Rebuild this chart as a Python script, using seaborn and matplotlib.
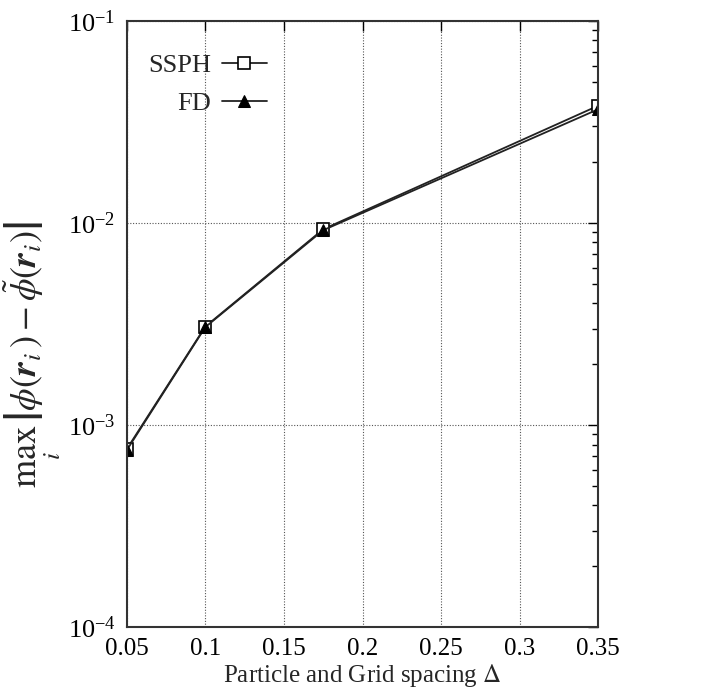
import matplotlib
matplotlib.use("Agg")
import matplotlib.pyplot as plt
import seaborn as sns
import pandas as pd
from matplotlib.ticker import LogLocator, FixedLocator, LogFormatterMathtext, NullFormatter

spacing = [0.05, 0.1, 0.175, 0.35]
ssph_err = [7.6e-4, 3.07e-3, 9.3e-3, 3.8e-2]
fd_err = [7.5e-4, 3.05e-3, 9.2e-3, 3.65e-2]
series_names = ["SSPH", "FD"]
xticks = [0.05, 0.1, 0.15, 0.2, 0.25, 0.3, 0.35]

sns.set_theme(style="white")
plt.rcParams['font.family'] = ['Liberation Serif', 'DejaVu Serif']
plt.rcParams['mathtext.fontset'] = 'stix'

df = pd.concat([
    pd.DataFrame({"x": spacing, "y": ssph_err, "method": series_names[0]}),
    pd.DataFrame({"x": spacing, "y": fd_err, "method": series_names[1]}),
])

fig = plt.figure(figsize=(7.2, 6.9), dpi=100)
ax = fig.add_axes([0.176, 0.091, 0.655, 0.879])

sns.lineplot(data=df[df.method == "SSPH"], x="x", y="y", ax=ax, color="#222222",
             lw=1.3, marker="s", markersize=9, markerfacecolor="white",
             markeredgecolor="black", markeredgewidth=1.2, label="SSPH")
sns.lineplot(data=df[df.method == "FD"], x="x", y="y", ax=ax, color="#222222",
             lw=1.3, marker="^", markersize=8, markerfacecolor="black",
             markeredgecolor="black", label="FD")

ax.set_yscale("log")
ax.set_xlim(0.05, 0.35)
ax.set_ylim(1e-4, 1e-1)
ax.xaxis.set_major_locator(FixedLocator(xticks))
ax.set_xticklabels([f"{t:g}" for t in xticks])
ax.yaxis.set_major_locator(LogLocator(base=10, numticks=10))
ax.yaxis.set_minor_locator(LogLocator(base=10, subs=range(2, 10), numticks=20))
ax.yaxis.set_major_formatter(LogFormatterMathtext())
ax.yaxis.set_minor_formatter(NullFormatter())

ax.grid(True, which="major", color="#555555", linestyle=(0, (1, 1.5)), linewidth=0.8)
ax.tick_params(which="both", direction="in", top=True, right=True, labelsize=19, colors="black")
ax.tick_params(which="major", length=7, width=1)
ax.tick_params(which="minor", length=4, width=1)
ax.tick_params(axis="x", pad=8, labelsize=18)
ax.tick_params(axis="y", pad=8)
for s in ax.spines.values():
    s.set_color("#333333")
    s.set_linewidth(1.5)

ax.set_xlabel(r"Particle and Grid spacing $\Delta$", fontsize=18, labelpad=1)
ax.set_ylabel(r"$\max_{i}\,\left|\phi(\boldsymbol{r}_i)-\tilde{\phi}(\boldsymbol{r}_i)\right|$", fontsize=26)
ax.yaxis.set_label_coords(-0.135, 0.45)

leg = ax.legend(loc="upper left", frameon=False, markerfirst=False, fontsize=19,
                bbox_to_anchor=(-0.005, 0.985), handlelength=1.7, labelspacing=0.55,
                handletextpad=0.4)

fig.savefig("out.png", dpi=100)
